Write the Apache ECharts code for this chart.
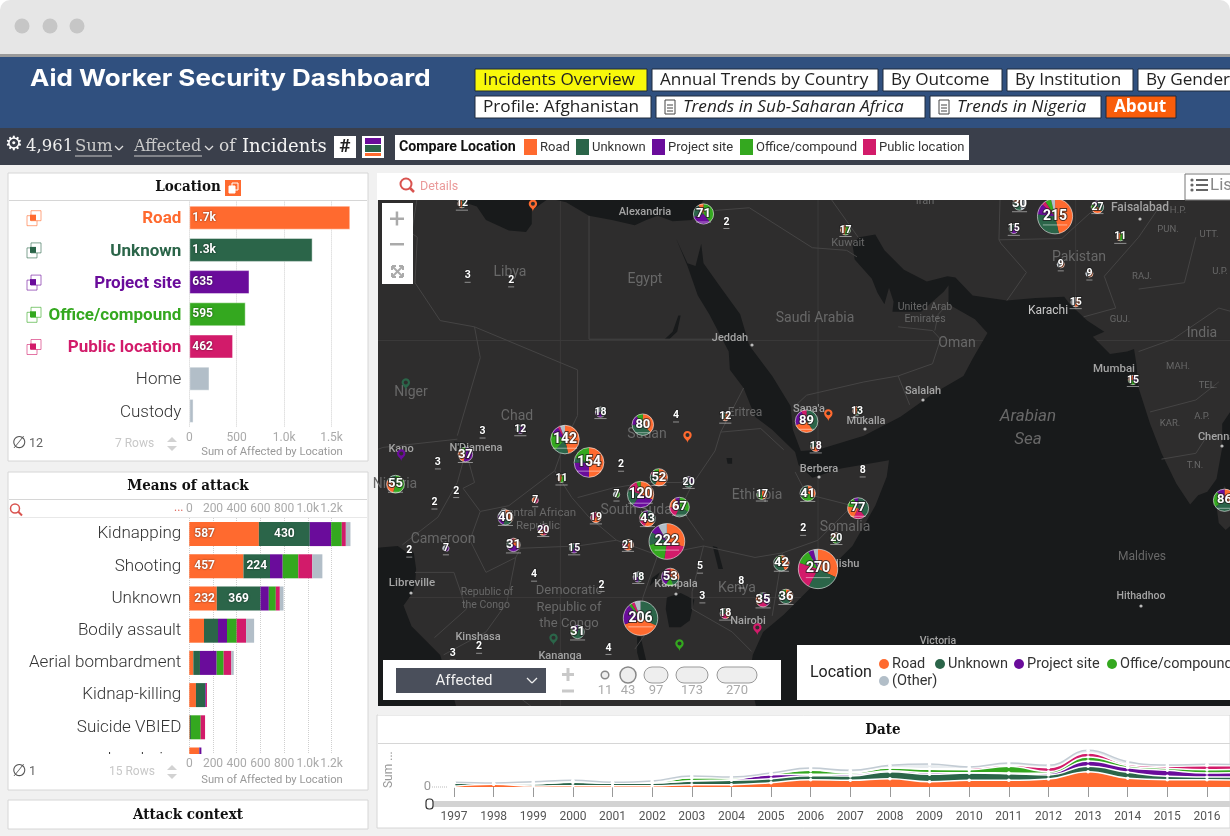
<!DOCTYPE html>
<html>
<head>
<meta charset="utf-8">
<title>Aid Worker Security Dashboard</title>
<script src="https://cdn.jsdelivr.net/npm/echarts@6/dist/echarts.min.js"></script>
<style>
html,body{margin:0;padding:0;background:#fff}
#chart{width:1230px;height:836px}
</style>
</head>
<body>
<div id="chart"></div>
<script>
// colours by location: road, unknown, project site, office/compound, public location, other
var locColors = ['#ff6a2f', '#2b6549', '#6a0c9b', '#34a81f', '#d21b6a', '#b2bec8'];

// Location panel
var locCats = ['Road', 'Unknown', 'Project site', 'Office/compound', 'Public location', 'Home', 'Custody'];
var locValues = [1698, 1301, 635, 595, 462, 213, 45];
var locLabels = ['1.7k', '1.3k', '635', '595', '462', '', ''];

// Means of attack panel, one array per location
var meansCats = ['Kidnapping', 'Shooting', 'Unknown', 'Bodily assault', 'Aerial bombardment', 'Kidnap-killing', 'Suicide VBIED', 'Landmine'];
var meansRoad = [587, 457, 232, 124, 34, 56, 4, 82];
var meansUnknown = [430, 224, 369, 118, 56, 79, 10, 3];
var meansProject = [180, 107, 70, 76, 141, 6, 0, 17];
var meansOffice = [90, 132, 59, 82, 59, 0, 82, 0];
var meansPublic = [34, 118, 34, 79, 65, 8, 37, 0];
var meansOther = [39, 85, 31, 68, 20, 0, 0, 0];

// Date panel
var years = ['1997','1998','1999','2000','2001','2002','2003','2004','2005','2006','2007','2008','2009','2010','2011','2012','2013','2014','2015','2016','2017'];
var dateRoad = [8,32,12,16,16,16,28,28,52,88,80,100,64,80,80,96,184,104,88,88,80];
var dateUnknown = [40,8,28,40,28,32,44,52,48,48,52,84,88,88,80,48,64,72,40,32,40];
var dateProject = [0,0,0,4,4,0,4,8,48,16,20,12,20,4,8,20,64,56,72,48,60];
var dateOffice = [0,0,0,0,0,4,36,20,8,48,16,32,40,36,80,20,48,24,24,40,30];
var datePublic = [0,0,4,0,0,0,0,0,0,4,8,4,8,16,12,48,48,16,24,48,40];
var dateOther = [8,8,20,20,8,20,20,12,12,24,24,28,56,16,28,28,32,32,16,16,20];

// map clusters: longitude, mercator northing, [location index, affected, ...] clockwise from the top
var clusters = [
  [65.7,33.3,[0,100,1,65,2,22,4,8,3,12,5,8]], [45.0,2.5,[0,86,1,70,4,60,3,32,2,12,5,10]],
  [31.8,4.9,[0,66,4,50,3,44,1,26,2,18,5,18]], [29.5,-1.8,[1,66,0,76,2,40,3,6,4,6,5,12]],
  [25.0,11.8,[0,77,2,38,1,9,3,30]], [22.9,13.8,[0,66,1,22,3,30,2,12,4,4,5,8]],
  [29.5,9.0,[0,38,2,34,1,26,4,16,3,6]], [44.0,15.4,[1,36,0,26,2,20,4,7]],
  [80.5,8.5,[0,30,1,26,3,20,2,10]], [29.7,15.1,[0,30,1,30,2,12,3,8]],
  [48.5,7.8,[1,30,4,14,0,16,3,12,2,5]], [35.0,33.5,[3,28,2,22,1,15,0,6]],
  [32.9,7.9,[3,22,1,16,4,12,0,12,2,5]], [8.1,9.9,[3,30,0,15,1,10]],
  [32.1,1.8,[0,16,1,8,3,7,2,18,4,4]], [31.1,10.5,[0,30,1,12,4,4,3,6]],
  [30.1,6.9,[1,14,0,10,4,10,3,5,2,4]], [41.8,3.0,[0,18,1,18,3,6]],
  [44.1,9.1,[0,14,3,13,1,14]], [17.7,7.0,[0,14,1,8,2,10,5,8]],
  [14.2,12.5,[2,20,0,12,3,5]], [42.2,0.1,[0,14,1,18,3,4]],
  [40.2,-0.2,[2,14,4,8,0,8,1,5]], [18.4,4.6,[0,10,2,12,1,5,4,4]],
  [24.0,-3.0,[1,20,3,6,2,5]], [62.6,34.4,[5,14,1,10,0,6]],
  [69.4,34.1,[1,10,0,8,3,5,2,4]], [28.4,4.6,[0,12,4,5,1,4]],
  [33.7,10.1,[2,6,1,8,5,6]], [21.0,5.9,[4,10,0,5,2,5]],
  [46.6,5.2,[1,10,3,6,0,4]], [25.6,7.0,[0,12,4,7]],
  [26.0,16.2,[1,8,2,5,5,5]], [44.8,13.2,[4,8,0,5,1,5]],
  [29.3,1.8,[1,9,2,4,5,5]], [36.9,-1.4,[0,8,4,5,1,5]],
  [40.1,9.0,[0,8,3,5,1,4]], [47.4,32.1,[3,9,0,8]],
  [23.7,4.3,[2,9,1,6]], [62.1,32.2,[2,9,1,6]],
  [67.5,25.8,[0,8,5,7]], [72.5,19.0,[2,6,3,5,0,4]],
  [48.4,16.3,[1,7,0,6]], [19.0,14.7,[2,7,1,5]],
  [36.9,15.8,[0,7,1,5]], [13.9,34.4,[1,6,0,6]],
  [22.6,10.4,[3,6,0,5]], [71.4,31.5,[3,6,0,5]],
  [66.2,29.1,[0,5,5,4]], [68.7,28.3,[0,5,5,4]],
  [27.4,9.0,[3,4,5,3]], [20.3,8.5,[4,4,0,3]], [12.5,4.3,[2,4,5,3]]
];
// very small clusters, number only: longitude, northing, count
var smallClusters = [
  [15.7,14.5,3],[11.8,11.8,3],[13.4,9.3,2],[11.5,8.3,2],[32.6,15.9,4],[27.8,11.6,2],
  [43.7,6.0,2],[9.3,4.1,2],[20.2,2.0,4],[26.1,1.1,2],[34.7,2.7,5],[34.9,0.1,3],
  [13.1,-4.9,3],[15.4,-4.3,2],[26.7,-4.4,4],[14.4,28.1,3],[18.2,27.7,2],[37.0,32.8,2],
  [38.3,1.4,8],[48.9,11.1,8]
];
// single incidents: longitude, northing, location index
var pins = [[20.1,34.3,0],[9.0,18.7,1],[8.6,12.5,2],[33.6,14.1,0],[45.9,16.0,0],[21.9,-3.6,1],[32.9,-4.1,3],[39.7,-2.7,4]];

// basemap outlines, lon/lat
var seaMed = [[5,38],[5,37],[10,37.3],[11,37],[10.5,35.5],[10.2,34],[11,33.2],[13,32.9],[15.2,32.3],[16,31.3],[18,30.5],[19.5,30.4],[20,31],[20,32],[21.5,32.9],[23,32.6],[25,31.6],[27,31.3],[29,30.9],[30,31.3],[31,31.6],[32.3,31.2],[34,31.3],[35,32.8],[35.8,35],[36,36.8],[36,38]];
var seaGuinea = [[0,4.5],[6,4.3],[7,4.4],[8.3,4.5],[9,4],[9.7,3.9],[9.9,2.5],[9.8,1],[9.5,0.3],[8.8,-0.7],[9.5,-2.5],[11,-4],[12,-5],[12.3,-6],[13,-8],[13.4,-9.5],[13.5,-12],[0,-12]];
var seaIndian = [[32.6,29.9],[33.6,27.8],[34.5,25.5],[35.5,24],[37.2,21],[37.3,19.5],[38.5,18],[39.5,15.6],[41,14.5],[43,12.6],[43.3,11.5],[44.5,10.4],[47,11.2],[51.2,11.9],[51,10.5],[50,8],[48,4.5],[45.5,2],[42,-1.5],[40.2,-3],[39.3,-5],[39,-7],[39.6,-9.5],[40.5,-12],[85,-12],[85,20],[81,16],[80.3,15],[80.3,13],[79.8,10.3],[79,9.2],[78.2,8.9],[77.5,8.1],[76.3,9.9],[75,12.5],[74,15],[73,18],[72.8,20],[72.6,21.2],[72,21],[70.5,20.8],[69,22.2],[70,22.6],[68.5,23.5],[67,24.8],[66.5,25.4],[64,25.3],[61.5,25.1],[58.5,25.5],[57,26.9],[56.3,27],[54.5,26.6],[52.5,27.5],[50.8,29],[50,30.2],[48.6,30],[48,29.5],[48.2,28.3],[49.7,26.8],[50.2,25.7],[50.8,24.8],[51.2,26.1],[51.6,25],[51.5,24.2],[54,24.2],[56,25.8],[56.4,26.3],[56.4,24.8],[58.7,23.6],[59.8,22.5],[58.5,20.4],[57.7,19],[55,17.5],[52.2,15.6],[49,14],[45,12.8],[43.5,12.7],[42.8,14.5],[42.6,16.5],[41,19],[39,21.5],[38.2,24],[36.6,26],[35,28],[34.8,29.5],[34.3,27.8],[33.6,28]];
var lakes = [
  [[31.8,0],[33,0.4],[34.2,-0.2],[33.8,-2],[33,-2.6],[32,-2.6],[31.7,-1]],
  [[29.2,-3.4],[29.2,-4.8],[29.8,-7],[30.6,-8.3],[31,-8],[30,-5.5],[29.5,-3.4]],
  [[35.8,4.5],[36.2,4.4],[36.7,2.5],[36.3,2.5]],
  [[30.5,1.7],[31.2,2.2],[30.9,1.6],[30.3,1]],
  [[13.2,13.5],[14.2,13.4],[14.5,12.9],[13.5,13]],
  [[37,12.1],[37.5,12.1],[37.5,11.6],[37.1,11.6]],
  [[29,-1.7],[29.3,-1.7],[29.2,-2.5],[28.9,-2.4]],
  [[31.6,22],[32.3,22.6],[32.8,23.9],[33,23.9],[32.7,22.6],[32,22]]
];
var sriLanka = [[79.8,8],[80.5,9.7],[81.3,8.5],[81.9,7],[80.6,5.9],[80,6.5]];
var borders = [
  [[25,31.6],[25,22]], [[25,22],[36.9,22]], [[24,19.5],[24,15.7],[22.9,13.5],[22,11]], [[24,19.5],[15,23]],
  [[15,23],[12,23.5],[9.8,26.5],[10,30],[9.5,30.3],[10.2,34]], [[15,23],[15.5,20.5],[13.5,14]],
  [[3.6,11.7],[7,13],[13.5,13.7]], [[14.2,12.5],[13.5,10],[11.8,7],[8.7,4.6]], [[14.2,12.8],[15,10],[14,9.5],[15.5,7.5]],
  [[15.5,7.5],[18,8],[22,11]], [[22,11],[23.5,8.7],[25,7],[27.4,5]], [[27.4,5],[24,4.5],[19,4.3],[18.6,3.5]],
  [[15.5,7.5],[14.6,5],[16,2.2]], [[16,2.2],[18.6,3.5],[17.8,-0.5],[16,-3],[12.3,-5]], [[9.8,2.2],[13.2,2.2],[14.3,-1],[11.5,-3.5]],
  [[24,8.7],[27,9.5],[30,10],[33,10],[34,9.8]], [[34,9.8],[33,7.8],[35,5]], [[35,4.5],[31,3.7],[27.4,5]],
  [[34,9.8],[36,12.7],[36.5,14.3],[38.5,18]], [[36.5,14.3],[40,14.6],[42,12.8]], [[35,4.5],[39.5,3.5],[41.9,3.9]],
  [[41.9,3.9],[45,5],[48,8],[44,9],[43,10.9]], [[41.9,3.9],[41,-1.6]], [[35,4.5],[34,0.5],[34,-1]], [[34,-1],[37.5,-3],[39.2,-4.7]],
  [[31,3.7],[29.7,0],[29.6,-1.4]], [[29.6,-1.4],[30.5,-1],[30.4,-2.5],[29,-4.5]], [[12.3,-6],[16.5,-6],[18,-8],[22,-11]],
  [[36,32],[39,32.2],[44.5,29.2],[47.5,29],[48.4,28.5]], [[52,23],[55,22.7],[55.7,22],[55,20],[52,19],[49,18.5],[44,17.4],[43,16.5]],
  [[52,19],[53,16.6]], [[56,24.5],[55.5,24],[55.2,22.7]], [[48.5,30],[46,33],[45.5,35.5]], [[61.5,25.1],[63.2,27.3],[61,29.5],[60.8,29.8],[61,36]],
  [[60.8,29.8],[66.3,29.9],[69,32],[70,33.5],[71,36.5]], [[68.2,23.8],[71,24.5],[70,27],[73,30],[75,32.5]],
  [[73,21],[76,22],[80,24.5],[82,24]], [[74,16],[78,17],[80,18.5]], [[75,12],[78,12.5],[79,14]], [[73,26],[77,26.5],[78,30]]
];
var graticule = [[[22.5,-20],[22.5,60]], [[45,-20],[45,60]], [[67.5,-20],[67.5,60]], [[0,0],[90,0]], [[0,21.9],[90,21.9]]];

var BODY = 'Roboto, "Noto Sans", sans-serif';
var SLAB = '"DejaVu Serif Condensed", "Liberation Serif", serif';
var TOOL = '"DejaVu Serif", serif';
var NAV = '"Open Sans", sans-serif';

var gfx = [];
function box(x, y, w, h, fill, stroke, z, r) {
  gfx.push({type: 'rect', silent: true, z: z === undefined ? -5 : z,
    shape: {x: x, y: y, width: w, height: h, r: r || 0},
    style: {fill: fill, stroke: stroke || null, lineWidth: 1}});
}
function txt(s, x, y, color, size, o) {
  o = o || {};
  gfx.push({type: 'text', silent: true, z: o.z === undefined ? 22 : o.z, x: x, y: y, rotation: o.rot || 0, scaleX: o.sx || 1,
    style: {text: s, fill: color, fontSize: size, fontFamily: o.font || BODY, fontWeight: o.weight || 'normal',
      fontStyle: o.italic ? 'italic' : 'normal', textAlign: o.align || 'left', textVerticalAlign: 'middle'}});
}
function seg(x1, y1, x2, y2, color, w, z, dash) {
  gfx.push({type: 'line', silent: true, z: z === undefined ? 22 : z, shape: {x1: x1, y1: y1, x2: x2, y2: y2},
    style: {stroke: color, lineWidth: w || 1, lineDash: dash || null}});
}
function dot(x, y, r, fill, stroke, z) {
  gfx.push({type: 'circle', silent: true, z: z === undefined ? 22 : z, shape: {cx: x, cy: y, r: r},
    style: {fill: fill, stroke: stroke || null, lineWidth: 1.5}});
}
function lens(x, y) {
  dot(x, y, 4.5, 'none', '#d9534f');
  seg(x + 3, y + 3, x + 7, y + 7, '#d9534f', 2);
}
function sortArrows(x, y) {
  gfx.push({type: 'polygon', silent: true, z: 22, shape: {points: [[x - 5, y - 2], [x + 5, y - 2], [x, y - 7]]}, style: {fill: '#d2d2d2'}});
  gfx.push({type: 'polygon', silent: true, z: 22, shape: {points: [[x - 5, y + 2], [x + 5, y + 2], [x, y + 7]]}, style: {fill: '#d2d2d2'}});
}
function docIcon(x, y) {
  box(x, y, 10, 14, '#fff', '#444', 22);
  seg(x + 2, y + 5, x + 8, y + 5, '#444', 1);
  seg(x + 2, y + 8, x + 8, y + 8, '#444', 1);
  seg(x + 2, y + 11, x + 8, y + 11, '#444', 1);
}

// window frame and page
box(0, 0, 1230, 60, '#e6e6e6', null, -9, [10, 10, 0, 0]);
dot(22, 26, 7.5, '#c6c6c6', null, -8);
dot(50, 26, 7.5, '#c6c6c6', null, -8);
dot(77, 26, 7.5, '#c6c6c6', null, -8);
box(0, 54, 1230, 3, '#9a9a9a', null, -8);
box(0, 57, 1230, 71, '#30507f', null, -8);
box(0, 128, 1230, 37, '#3a3f4b', null, -8);
box(0, 165, 1230, 671, '#f1f1f1', null, -8);

// navigation
txt('Aid Worker Security Dashboard', 30, 79, '#ffffff', 23, {font: 'Inter, ' + NAV, weight: 'bold', sx: 1.13});
var navButtons = [
  ['Incidents Overview', 475, 69, 172, '#f8f80a', '#222', false, false],
  ['Annual Trends by Country', 652, 69, 226, '#fff', '#222', false, false],
  ['By Outcome', 883, 69, 119, '#fff', '#222', false, false],
  ['By Institution', 1007, 69, 126, '#fff', '#222', false, false],
  ['By Gender', 1138, 69, 110, '#fff', '#222', false, false],
  ['Profile: Afghanistan', 475, 96, 176, '#fff', '#222', false, false],
  ['Trends in Sub-Saharan Africa', 656, 96, 269, '#fff', '#222', true, true],
  ['Trends in Nigeria', 930, 96, 171, '#fff', '#222', true, true],
  ['About', 1106, 96, 70, '#f95d0b', '#fff', false, false]
];
navButtons.forEach(function (b) {
  box(b[1], b[2], b[3], 22, b[4], '#1f2a3c', -2);
  var offs = b[7] ? 27 : 8;
  if (b[7]) docIcon(b[1] + 9, b[2] + 4);
  txt(b[0], b[1] + offs, b[2] + 11.5, b[5], 17.2, {font: NAV, italic: b[6], weight: b[0] === 'About' ? 'bold' : 'normal'});
});

// toolbar
txt('\u2699', 5, 145, '#ffffff', 20, {font: '"DejaVu Sans"', weight: 'bold'});
txt('4,961', 26, 147, '#eeeeee', 16.5, {font: TOOL});
txt('Sum', 75, 147, '#c9c9c9', 16.5, {font: TOOL});
seg(75, 156, 112, 156, '#c9c9c9', 1);
txt('Affected', 134, 147, '#c9c9c9', 16, {font: TOOL});
seg(134, 156, 202, 156, '#c9c9c9', 1);
txt('of', 219, 147, '#d8d8d8', 17, {font: TOOL});
txt('Incidents', 242, 147, '#f4f4f4', 18, {font: TOOL});
[[115, 146], [205, 146]].forEach(function (c) {
  seg(c[0], c[1], c[0] + 4, c[1] + 4, '#ddd', 1.2);
  seg(c[0] + 4, c[1] + 4, c[0] + 8, c[1], '#ddd', 1.2);
});
box(334, 136, 22, 22, '#ffffff', null, -2);
txt('#', 345, 147, '#222', 19, {font: BODY, weight: 'bold', align: 'center'});
box(362, 136, 22, 22, '#ffffff', null, -2);
box(365, 138, 16, 6, locColors[2], null, -1);
box(365, 145, 16, 7, locColors[1], null, -1);
box(365, 153, 16, 3, locColors[0], null, -1);
box(395, 135, 574, 25, '#ffffff', null, -2);
txt('Compare Location', 399, 147.5, '#111', 14.2, {weight: 'bold'});
var compareX = [[524, 'Road', 0], [576, 'Unknown', 1], [652, 'Project site', 2], [740, 'Office/compound', 3], [863, 'Public location', 4]];
compareX.forEach(function (c) {
  box(c[0], 139, 13, 16, locColors[c[2]], null, -1);
  txt(c[1], c[0] + 16, 147.5, '#333', 13);
});

// panels
box(8, 173, 360, 288, '#fff', '#d6d6d6');
seg(9, 200.5, 367, 200.5, '#d6d6d6', 1, -4);
txt('Location', 188, 187.5, '#111', 15, {font: SLAB, weight: 'bold', align: 'center'});
box(225, 180, 16, 16, '#ff6a2f', null, 22);
box(232, 183, 6, 7, 'none', '#fff', 22);
box(229, 186, 6, 7, '#fff', '#fff', 22);
for (var li = 0; li < 5; li++) {
  var rowY = 217.7 + li * 32.2;
  box(27, rowY - 2, 10, 10, '#fff', locColors[li] + '99', 22);
  box(31, rowY - 7, 10, 10, '#fff', locColors[li] + '99', 22);
  box(30, rowY - 3, 6, 6, locColors[li], null, 23);
}
txt('\u2205', 12, 443.5, '#555', 17, {font: '"DejaVu Sans"'});
txt('12', 29, 444, '#666', 12.5);
txt('7 Rows', 115, 444, '#c8c8c8', 12);
sortArrows(172, 444);
txt('Sum of Affected by Location', 272, 452, '#999', 11.2, {align: 'center'});

box(8, 472, 360, 318, '#fff', '#d6d6d6');
seg(9, 499.5, 367, 499.5, '#d6d6d6', 1, -4);
seg(9, 517.5, 367, 517.5, '#e8e8e8', 1, -4);
txt('Means of attack', 188, 486, '#111', 15, {font: SLAB, weight: 'bold', align: 'center'});
lens(15, 508.5);
txt('...', 174, 508, '#e06a5f', 12);
box(9, 754, 358, 35, '#fff', null, 10);
txt('\u2205', 12, 772, '#555', 17, {font: '"DejaVu Sans"'});
txt('1', 29, 772, '#666', 12.5);
txt('15 Rows', 109, 772, '#c8c8c8', 12);
sortArrows(172, 772);
txt('Sum of Affected by Location', 272, 780, '#999', 11.2, {align: 'center'});

box(8, 800, 360, 29, '#fff', '#d6d6d6');
txt('Attack context', 188, 815, '#111', 15, {font: SLAB, weight: 'bold', align: 'center'});

// map frame
box(378, 200, 852, 506, '#2e2d2d', null, -5);
box(377, 173, 853, 27, '#fff', null, 20);
gfx.push({type: 'circle', silent: true, z: 22, shape: {cx: 406, cy: 184, r: 5.5}, style: {fill: 'none', stroke: '#d9534f', lineWidth: 2}});
seg(410, 188, 414, 192, '#d9534f', 2.5);
txt('Details', 420, 186.5, '#ea9a9a', 12.5);
box(1185, 174, 46, 26, '#fff', '#777', 21);
for (var lb = 0; lb < 3; lb++) {
  dot(1192, 180 + lb * 5, 1.6, '#666');
  seg(1196, 180 + lb * 5, 1208, 180 + lb * 5, '#666', 2);
}
txt('List', 1210, 186, '#888', 17);
box(378, 706, 852, 9, '#f1f1f1', null, 20);
box(382, 203, 31, 81, '#fff', null, 20);
box(390, 217.5, 14, 2.5, '#aaa', null, 21);
box(395.7, 211.5, 2.5, 14, '#aaa', null, 21);
box(390, 243, 14, 2.5, '#aaa', null, 21);
seg(392, 266, 403, 277, '#aaa', 2);
seg(403, 266, 392, 277, '#aaa', 2);
[[392, 266, 1, 1], [403, 266, -1, 1], [392, 277, 1, -1], [403, 277, -1, -1]].forEach(function (c) {
  seg(c[0], c[1], c[0] + c[2] * 4, c[1], '#aaa', 2);
  seg(c[0], c[1], c[0], c[1] + c[3] * 4, '#aaa', 2);
});

// place names on the basemap: label, x, y, size, colour
var dimC = '#686868', cityC = '#a4a4a4';
var mapPlaces = [
  ['Alexandria',645,212,11,cityC],['Libya',510,272,14,dimC],['Egypt',645,279,14,dimC],['Kuwait',848,243,11,dimC],
  ['Saudi Arabia',815,318,14,dimC],['Jeddah',730,338,11,cityC],['United Arab',925,307,10.5,dimC],['Emirates',925,319,10.5,dimC],
  ['Oman',957,343,14,dimC],['Karachi',1048,311,12,'#c8c8c8'],['Faisalabad',1140,208,12,cityC],['Pakistan',1079,257,14,dimC],
  ['India',1202,333,14,dimC],['Mumbai',1114,369,11.5,cityC],['Salalah',923,391,11,cityC],['Mukalla',866,421,11,cityC],
  ['Niger',411,392,14,dimC],['Chad',517,416,14,dimC],['Sudan',647,434,14,dimC],['Kano',401,449,11,cityC],
  ["N'Djamena",476,448,11,cityC],['Eritrea',745,413,12,dimC],["Sana'a",809,409,11,cityC],['Berbera',819,469,11,cityC],
  ['Ethiopia',757,495,14,dimC],['Somalia',845,527,14,dimC],['Nigeria',395,484,14,dimC],['Central African',538,513,11.5,dimC],
  ['Republic',538,526,11.5,dimC],['South Sudan',640,510,14,dimC],['Cameroon',443,539,14,dimC],['Libreville',412,583,11.5,cityC],
  ['Republic of',487,592,10.5,dimC],['the Congo',486,605,10.5,dimC],['Democratic',569,591,13,dimC],['Republic of',569,608,13,dimC],
  ['the Congo',569,624,13,dimC],['Kampala',676,584,11,cityC],['Kenya',737,588,14,dimC],['Mogadishu',832,564,11,cityC],
  ['Kinshasa',478,637,11,cityC],['Kananga',560,656,11,cityC],['Nairobi',748,621,11,cityC],['Maldives',1142,557,12,dimC],
  ['Hithadhoo',1141,596,10.5,cityC],['Victoria',938,641,10.5,cityC],['Chennai',1218,437,11,cityC],['Iran',925,201,11,dimC],
  ['H.P.',1178,211,9.5,dimC],['PUN.',1168,230,9.5,dimC],['UTT.',1209,235,9.5,dimC],['RAJ.',1142,277,9.5,dimC],['U.P.',1220,272,9.5,dimC],
  ['GUJ.',1120,320,9.5,dimC],['MAH.',1178,367,9.5,dimC],['TEL.',1208,386,9.5,dimC],['KAR.',1170,424,9.5,dimC],['A.P.',1202,417,9.5,dimC],['T.N.',1195,466,9.5,dimC]
];
mapPlaces.forEach(function (p) { txt(p[0], p[1], p[2], p[4], p[3], {align: 'center', z: 1, weight: p[4] === cityC ? 500 : 'normal'}); });
txt('Arabian', 1028, 417, dimC, 17, {align: 'center', italic: true, z: 1});
txt('Sea', 1028, 440, dimC, 17, {align: 'center', italic: true, z: 1});
[[752,345],[411,593],[676,594],[923,400],[865,429],[1140,219],[1141,606],[938,650],[1222,446],[819,477]].forEach(function (c) { dot(c[0], c[1], 1.6, '#bbb', null, 1); });

// map controls
box(383, 660, 398, 40, '#fff', null, 20);
box(396, 668, 150, 25, '#4a4f5b', null, 21);
txt('Affected', 464, 681, '#f0f0f0', 15, {align: 'center'});
seg(527, 678, 532, 683, '#eee', 1.3);
seg(532, 683, 537, 678, '#eee', 1.3);
box(562, 673, 12, 3, '#c9c9c9', null, 21);
box(566.5, 668, 3, 13, '#c9c9c9', null, 21);
box(562, 689.5, 12, 3, '#c9c9c9', null, 21);
dot(605, 675, 3.8, '#eee', '#888');
dot(628, 675, 8, '#eee', '#888');
box(644, 667, 24, 16, '#eee', '#999', 21, 8);
box(676, 667, 32, 16, '#eee', '#999', 21, 8);
box(717, 667, 40, 16, '#eee', '#999', 21, 8);
[['11', 605], ['43', 628], ['97', 656], ['173', 692], ['270', 737]].forEach(function (c) {
  txt(c[0], c[1], 690.5, '#aaa', 13, {align: 'center'});
});
box(797, 645, 433, 55, '#fff', null, 20);
txt('Location', 810, 673, '#222', 16);
[[884, 664, 'Road', 0], [940, 664, 'Unknown', 1], [1019, 664, 'Project site', 2], [1112, 664, 'Office/compound', 3], [884, 681, '(Other)', 5]].forEach(function (c) {
  dot(c[0], c[1], 5, locColors[c[3]]);
  txt(c[2], c[0] + 8, c[1], '#333', 14.5);
});

// date panel
box(377, 715, 853, 113, '#fff', '#d6d6d6');
seg(378, 743.5, 1230, 743.5, '#d6d6d6', 1, -4);
txt('Date', 883, 730, '#111', 15, {font: SLAB, weight: 'bold', align: 'center'});
txt('Sum ...', 389, 788, '#999', 12, {rot: Math.PI / 2});
seg(432, 787, 447, 787, '#bbb', 1, 22, [1, 1]);
box(428, 801, 802, 6, '#d3d3d3', null, -3);
gfx.push({type: 'rect', silent: true, z: 22, shape: {x: 426, y: 799, width: 7, height: 10, r: 3}, style: {fill: '#fff', stroke: '#333', lineWidth: 1.2}});

function kFmt(v) { return v >= 1000 ? (v / 1000).toFixed(1) + 'k' : String(v); }
function merc(lat) { return Math.log(Math.tan(Math.PI / 4 + lat * Math.PI / 360)) * 180 / Math.PI; }

var GRID = {outerBoundsMode: 'none', containLabel: false};
function gridAt(left, top, width, height) {
  return Object.assign({left: left, top: top, width: width, height: height}, GRID);
}
var axisGrey = {color: '#aaa', fontSize: 12, fontFamily: BODY};
var dotted = {show: true, showMaxLine: false, lineStyle: {type: 'dotted', color: '#cfcfcf'}};

function catAxis(gridIndex, cats, fmt, rich) {
  return {type: 'category', gridIndex: gridIndex, data: cats, inverse: true,
    axisLine: {show: false}, axisTick: {show: false},
    axisLabel: {fontSize: 17, fontWeight: 300, fontFamily: BODY, color: '#333', margin: 8, interval: 0, padding: [3, 0, 0, 0], formatter: fmt, rich: rich}};
}

var locRich = {};
locColors.slice(0, 5).forEach(function (c, i) {
  locRich['c' + i] = {color: c, fontWeight: 'bold', fontSize: 17, fontFamily: BODY};
});
locRich.plain = {color: '#333', fontWeight: 300, fontSize: 17, fontFamily: BODY};

var barLabel = {show: true, color: '#fff', fontSize: 12, fontWeight: 'bold', fontFamily: BODY,
  textShadowColor: 'rgba(0,0,0,0.65)', textShadowBlur: 2};

function meansSeries(name, values, colorIdx, pos) {
  return {type: 'bar', name: name, stack: 'means', xAxisIndex: 1, yAxisIndex: 1, barWidth: 24, data: values,
    itemStyle: {color: locColors[colorIdx]},
    label: Object.assign({}, barLabel, {position: pos, distance: 5, formatter: function (p) { return p.value >= 200 ? p.value : ''; }})};
}
function dateSeries(name, values, colorIdx) {
  return {type: 'line', name: name, stack: 'date', smooth: 0.45, xAxisIndex: 3, yAxisIndex: 3, data: values,
    symbol: 'circle', symbolSize: 3.5, showSymbol: true,
    lineStyle: {color: colorIdx === 5 ? '#c3ccd4' : '#fff', width: 1.5},
    itemStyle: {color: '#fff', borderWidth: 0},
    areaStyle: {color: colorIdx === 5 ? '#e9edf0' : locColors[colorIdx], opacity: 1}};
}

function renderBasemap(params, api) {
  var project = function (pts) {
    return pts.map(function (p) { return api.coord([p[0], merc(p[1])]); });
  };
  var children = [];
  graticule.forEach(function (g) {
    children.push({type: 'polyline', shape: {points: project(g)}, style: {stroke: '#3b3a3a', fill: null, lineWidth: 1}});
  });
  [seaMed, seaGuinea, seaIndian].concat(lakes).forEach(function (s) {
    children.push({type: 'polygon', shape: {points: project(s)}, style: {fill: '#181a1b'}});
  });
  children.push({type: 'polygon', shape: {points: project(sriLanka)}, style: {fill: '#2e2d2d'}});
  borders.forEach(function (b) {
    children.push({type: 'polyline', shape: {points: project(b)}, style: {stroke: '#454444', fill: null, lineWidth: 1}});
  });
  var c = params.coordSys;
  return {type: 'group', children: children,
    clipPath: {type: 'rect', shape: {x: c.x, y: c.y, width: c.width, height: c.height}}};
}

function renderCluster(params, api) {
  var pt = api.coord([api.value(0), api.value(1)]);
  var parts = clusters[params.dataIndex][2];
  var total = 0;
  for (var i = 1; i < parts.length; i += 2) total += parts[i];
  var r = Math.sqrt(total) * 1.2;
  var children = [];
  var ang = -Math.PI / 2;
  for (var j = 0; j < parts.length; j += 2) {
    var end = ang + parts[j + 1] / total * Math.PI * 2;
    children.push({type: 'sector', shape: {cx: pt[0], cy: pt[1], r: r, startAngle: ang, endAngle: end},
      style: {fill: locColors[parts[j]]}});
    ang = end;
  }
  children.push({type: 'circle', shape: {cx: pt[0], cy: pt[1], r: r}, style: {fill: 'none', stroke: 'rgba(255,255,255,0.55)', lineWidth: 1}});
  var size = total >= 100 ? 14 : (total >= 30 ? 13 : 10.5);
  children.push({type: 'text', style: {text: String(total), x: pt[0], y: pt[1], textAlign: 'center', textVerticalAlign: 'middle',
    fill: '#fff', fontSize: size, fontWeight: 'bold', fontFamily: BODY, stroke: 'rgba(30,30,30,0.75)', lineWidth: 2}});
  var half = String(total).length * size * 0.29;
  children.push({type: 'line', shape: {x1: pt[0] - half, y1: pt[1] + size * 0.62, x2: pt[0] + half, y2: pt[1] + size * 0.62},
    style: {stroke: 'rgba(255,255,255,0.6)', lineWidth: 0.8}});
  return {type: 'group', children: children};
}

function renderSmallCluster(params, api) {
  var pt = api.coord([api.value(0), api.value(1)]);
  return {type: 'group', children: [
    {type: 'text', style: {text: String(api.value(2)), x: pt[0], y: pt[1], textAlign: 'center', textVerticalAlign: 'middle',
      fill: '#fff', fontSize: 10.5, fontWeight: 'bold', fontFamily: BODY, stroke: 'rgba(30,30,30,0.7)', lineWidth: 1.5}},
    {type: 'line', shape: {x1: pt[0] - 3, y1: pt[1] + 6.5, x2: pt[0] + 3, y2: pt[1] + 6.5}, style: {stroke: 'rgba(255,255,255,0.6)', lineWidth: 0.8}}
  ]};
}

var option = {
  animation: false,
  backgroundColor: '#ffffff',
  textStyle: {fontFamily: BODY},
  graphic: {elements: gfx},
  grid: [
    gridAt(189.3, 201.6, 165.9, 225.4),
    gridAt(189.3, 518, 165.9, 257.6),
    gridAt(189.3, 753, 165.9, 1),
    gridAt(454, 745, 792.6, 42),
    gridAt(378, 200, 852, 506)
  ],
  xAxis: [
    {type: 'value', gridIndex: 0, min: 0, max: 1750, interval: 500, axisLine: {show: false}, axisTick: {show: false},
      splitLine: dotted, axisLabel: Object.assign({margin: 5, showMaxLabel: false, formatter: kFmt}, axisGrey)},
    {type: 'value', gridIndex: 1, position: 'top', min: 0, max: 1400, interval: 200, axisLine: {show: false}, axisTick: {show: false},
      splitLine: dotted, axisLabel: Object.assign({margin: 3, showMaxLabel: false, formatter: kFmt}, axisGrey)},
    {type: 'value', gridIndex: 2, z: 20, min: 0, max: 1400, interval: 200, axisLine: {show: false}, axisTick: {show: false},
      splitLine: {show: false}, axisLabel: Object.assign({margin: 4, showMaxLabel: false, formatter: kFmt}, axisGrey)},
    {type: 'category', gridIndex: 3, data: years, boundaryGap: false, offset: 11, axisLine: {show: false},
      axisTick: {show: true, length: 10, alignWithLabel: true, lineStyle: {color: '#999'}},
      splitLine: {show: false}, axisLabel: {interval: 0, margin: 13, color: '#555', fontSize: 12, fontFamily: BODY}},
    {type: 'value', gridIndex: 4, min: 6.57, max: 80.98, show: false, splitLine: {show: false}}
  ],
  yAxis: [
    catAxis(0, locCats, function (v, i) { return i < 5 ? '{c' + i + '|' + v + '}' : '{plain|' + v + '}'; }, locRich),
    catAxis(1, meansCats),
    {type: 'value', gridIndex: 2, show: false, splitLine: {show: false}},
    {type: 'value', gridIndex: 3, min: 0, max: 504, interval: 504, axisLine: {show: false}, axisTick: {show: false}, splitLine: {show: false},
      axisLabel: {margin: 23, color: '#999', fontSize: 13, fontFamily: BODY, formatter: function (v) { return v === 0 ? '0' : ''; }}},
    {type: 'value', gridIndex: 4, min: -9.47, max: 34.72, show: false, splitLine: {show: false}}
  ],
  series: [
    {type: 'custom', name: 'basemap', z: 0, silent: true, xAxisIndex: 4, yAxisIndex: 4, data: [[0, 0]], renderItem: renderBasemap, encode: {x: 0, y: 1}},
    {type: 'bar', name: 'Location', xAxisIndex: 0, yAxisIndex: 0, barWidth: 24,
      data: locValues.map(function (v, i) {
        return {value: v, itemStyle: {color: locColors[Math.min(i, 5)], borderColor: 'rgba(255,255,255,0.45)', borderWidth: 1}};
      }),
      label: Object.assign({}, barLabel, {position: 'insideLeft', distance: 3, formatter: function (p) { return locLabels[p.dataIndex]; }})},
    meansSeries('Road', meansRoad, 0, 'insideLeft'),
    meansSeries('Unknown', meansUnknown, 1, 'inside'),
    meansSeries('Project site', meansProject, 2, 'inside'),
    meansSeries('Office/compound', meansOffice, 3, 'inside'),
    meansSeries('Public location', meansPublic, 4, 'inside'),
    meansSeries('Other', meansOther, 5, 'inside'),
    dateSeries('Road', dateRoad, 0),
    dateSeries('Unknown', dateUnknown, 1),
    dateSeries('Project site', dateProject, 2),
    dateSeries('Office/compound', dateOffice, 3),
    dateSeries('Public location', datePublic, 4),
    dateSeries('Other', dateOther, 5),
    {type: 'scatter', name: 'incidents', xAxisIndex: 4, yAxisIndex: 4, symbol: 'pin', symbolSize: 14, symbolOffset: [0, 7], z: 3,
      data: pins.map(function (p) {
        return {value: [p[0], p[1]], itemStyle: {color: locColors[p[2]], opacity: 1}};
      })},
    {type: 'scatter', name: 'incident centres', xAxisIndex: 4, yAxisIndex: 4, symbol: 'circle', symbolSize: 4, symbolOffset: [0, -1], z: 3,
      itemStyle: {color: '#2e2d2d', opacity: 1},
      data: pins.map(function (p) { return [p[0], p[1]]; })},
    {type: 'custom', name: 'clusters', z: 4, xAxisIndex: 4, yAxisIndex: 4, renderItem: renderCluster, encode: {x: 0, y: 1},
      data: clusters.map(function (c) { return [c[0], c[1]]; })},
    {type: 'custom', name: 'small clusters', z: 4, xAxisIndex: 4, yAxisIndex: 4, renderItem: renderSmallCluster, encode: {x: 0, y: 1},
      data: smallClusters}
  ]
};

var chart = echarts.init(document.getElementById('chart'));
chart.setOption(option);
</script>
</body>
</html>
